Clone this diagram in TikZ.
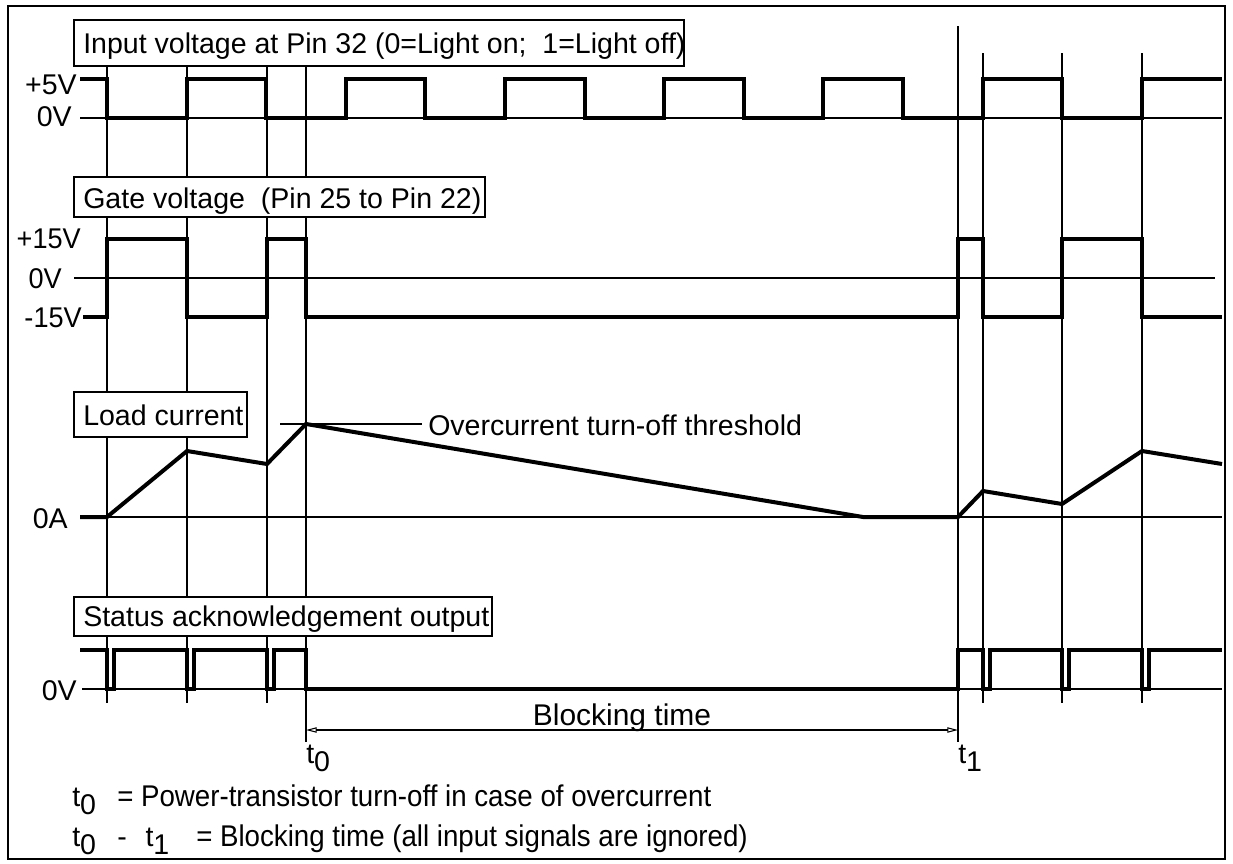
\documentclass[tikz,border=0pt]{standalone}
\usepackage{fontspec}
\setmainfont{Liberation Sans}
\usetikzlibrary{arrows.meta}
\begin{document}
\begin{tikzpicture}[x=0.75pt,y=-0.75pt,
  thinl/.style={line width=0.8pt},
  sig/.style={line width=3pt, line join=miter},
  lbl/.style={inner sep=0pt, font=\fontsize{21.4pt}{25pt}\selectfont},
  tbox/.style={draw, line width=0.8pt, fill=white},
  dim/.style={line width=0.8pt, {Triangle[open,length=8pt,width=4pt]}-{Triangle[open,length=8pt,width=4pt]}}]
\useasboundingbox (0,0) rectangle (1233,864);
\draw[thinl] (8,6) rectangle (1225,859);
% vertical lines
\foreach \x in {107,187,267,983,1062,1142} \draw[thinl] (\x,53) -- (\x,703);
\draw[thinl] (306,53) -- (306,742);
\draw[thinl] (958,26) -- (958,742);
% horizontal reference lines
\draw[thinl] (80,118) -- (1222,118);
\draw[thinl] (74,278) -- (1215,278);
\draw[thinl] (80,517) -- (1222,517);
\draw[thinl] (82,689) -- (1222,689);
\draw[thinl] (280,424) -- (422,424);
% input signal
\draw[sig] (80,79) -- (107,79) -- (107,118) -- (187,118) -- (187,79) -- (266,79) -- (266,118) -- (346,118) -- (346,79) -- (425,79) -- (425,118) -- (505,118) -- (505,79) -- (585,79) -- (585,118) -- (664,118) -- (664,79) -- (744,79) -- (744,118) -- (823,118) -- (823,79) -- (903,79) -- (903,118) -- (983,118) -- (983,79) -- (1062,79) -- (1062,118) -- (1142,118) -- (1142,79) -- (1222,79);
% gate signal
\draw[sig] (83,317) -- (107,317) -- (107,239) -- (187,239) -- (187,317) -- (267,317) -- (267,239) -- (306,239) -- (306,317) -- (958,317) -- (958,239) -- (983,239) -- (983,317) -- (1062,317) -- (1062,239) -- (1142,239) -- (1142,317) -- (1222,317);
% load current
\draw[sig] (80,517) -- (107,517) -- (187,451) -- (267,464) -- (306,424) -- (863,517) -- (958,517) -- (983,491) -- (1062,504) -- (1142,451) -- (1222,464);
% status
\draw[sig] (80,650) -- (107,650) -- (107,689) -- (114,689) -- (114,650) -- (187,650) -- (187,689) -- (194,689) -- (194,650) -- (267,650) -- (267,689) -- (274,689) -- (274,650) -- (306,650) -- (306,689) -- (958,689) -- (958,650) -- (983,650) -- (983,689) -- (990,689) -- (990,650) -- (1062,650) -- (1062,689) -- (1069,689) -- (1069,650) -- (1142,650) -- (1142,689) -- (1149,689) -- (1149,650) -- (1222,650);
% boxes
\draw[tbox] (74,20) rectangle (684,66);
\draw[tbox] (74,177) rectangle (485,217);
\draw[tbox] (74,392) rectangle (247,437);
\draw[tbox] (74,597) rectangle (492,636);
\node[lbl, anchor=base west] (inp) at (83,53) {Input voltage at Pin 32 (0=Light on;\ \ 1=Light off)};
\node[lbl, anchor=base west] (gate) at (83,208) {Gate voltage\ \ (Pin 25 to Pin 22)};
\node[lbl, anchor=base west] (load) at (83,425) {Load current};
\node[lbl, anchor=base west] (stat) at (83,626) {Status acknowledgement output};
% axis labels
\node[lbl, anchor=base east] (p5) at (77,94) {+5V};
\node[lbl, anchor=base east] (z1) at (72,126) {0V};
\node[lbl, anchor=base east] (p15) at (81,248) {\scalebox{0.95}[1]{+15V}};
\node[lbl, anchor=base east] (z2) at (62,288) {\scalebox{0.95}[1]{0V}};
\node[lbl, anchor=base east] (m15) at (82,327) {\scalebox{0.95}[1]{-15V}};
\node[lbl, anchor=base east] (z3) at (68,528) {0A};
\node[lbl, anchor=base east] (z4) at (77,700) {0V};
\node[lbl, anchor=base west] (thr) at (428,435) {Overcurrent turn-off threshold};
% blocking time
\coordinate (bl) at (306,730);
\coordinate (br) at (958,730);
\draw[dim] (bl) -- (br);
\node[lbl, anchor=base] (blk) at (622,725) {\scalebox{1.05}[1.05]{Blocking time}};
\node[lbl, anchor=base west] (t0) at (306,763) {t\raisebox{-6pt}{0}};
\node[lbl, anchor=base west] (t1) at (958,763) {t\raisebox{-6pt}{1}};
% legend
\node[lbl, anchor=base west] (l1a) at (72,806) {t\raisebox{-6pt}{0}};
\node[lbl, anchor=base west] (l1b) at (117,806) {\scalebox{0.97}[1.05]{= Power-transistor turn-off in case of overcurrent}};
\node[lbl, anchor=base west] (l2a) at (72,846) {t\raisebox{-6pt}{0}\hspace{16pt}-\hspace{14pt}t\raisebox{-6pt}{1}};
\node[lbl, anchor=base west] (l2b) at (196,846) {\scalebox{0.97}[1.05]{= Blocking time (all input signals are ignored)}};
\end{tikzpicture}
\end{document}
